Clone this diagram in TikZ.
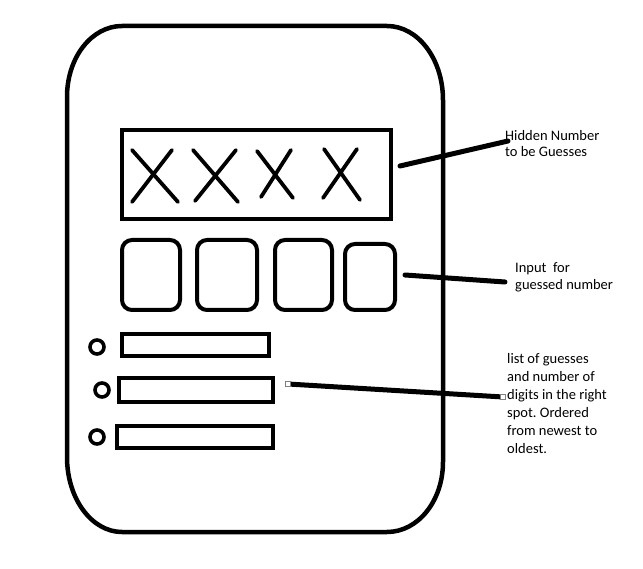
\documentclass[tikz,border=0pt]{standalone}
\usepackage{fontspec}
\setmainfont{Carlito}
\begin{document}
\frenchspacing
\begin{tikzpicture}[x=1pt,y=-1pt,
  frame/.style={line width=4.5pt},
  boxline/.style={draw, line width=4pt, inner sep=0pt, outer sep=0pt},
  cross/.style={line width=3.8pt, line cap=round},
  inbox/.style={boxline, rounded corners=10pt},
  bar/.style={boxline},
  dot/.style={draw, circle, line width=3.6pt, minimum size=14pt, inner sep=0pt},
  conn/.style={line width=5pt, line cap=round},
  handle/.style={draw=gray, fill=white, line width=0.8pt, minimum size=4.5pt, inner sep=0pt},
  lbl/.style={anchor=north west, align=left, inner sep=0pt, font=\fontsize{14.5}{16}\selectfont}
]
\useasboundingbox (0,0) rectangle (643,569);
% outer device frame
\draw[frame] (122,26) -- (387,26) .. controls (418,26) and (443,59) .. (443,100)
  -- (443,462) .. controls (443,501) and (418,532) .. (387,532)
  -- (122,532) .. controls (92,532) and (67,499) .. (67,457)
  -- (67,97) .. controls (67,57) and (92,26) .. (122,26) -- cycle;
% hidden number box
\node[boxline, minimum width=269pt, minimum height=89pt] (hidden) at (256.5,174.5) {};
\draw[cross] (132,150) -- (178,202) (172,150) -- (132,202);
\draw[cross] (193,150) -- (238,202) (236,150) -- (195,201);
\draw[cross] (257,151) -- (293,198) (291,150) -- (261,197);
\draw[cross] (324,149) -- (360,200) (357,149) -- (323,198);
% input boxes
\node[inbox, minimum width=58pt, minimum height=70pt] (in1) at (151,275) {};
\node[inbox, minimum width=60pt, minimum height=70pt] (in2) at (227,275) {};
\node[inbox, minimum width=57pt, minimum height=70pt] (in3) at (303.5,275) {};
\node[inbox, minimum width=50pt, minimum height=66pt] (in4) at (370,277) {};
% list of guesses
\node[bar, minimum width=147pt, minimum height=22pt] (g1) at (195.5,345) {};
\node[bar, minimum width=154pt, minimum height=24pt] (g2) at (196,390) {};
\node[bar, minimum width=156pt, minimum height=22pt] (g3) at (195,437) {};
\node[dot] (d1) at (97,347) {};
\node[dot] (d2) at (102,390) {};
\node[dot] (d3) at (97,437) {};
% labels
\node[lbl] (lhidden) at (505,130) {Hidden Number\\to be Guesses};
\node[lbl, font=\fontsize{14.5}{17.5}\selectfont] (linput) at (515,262) {Input\ \ for\\guessed number};
\node[lbl, font=\fontsize{14.5}{18}\selectfont] (llist) at (507,353) {list of guesses\\and number of\\digits in the right\\spot. Ordered\\from newest to\\oldest.};
% connectors
\coordinate (h1) at (400,166);
\coordinate (h2) at (508,141);
\coordinate (i1) at (405,275);
\coordinate (i2) at (505,282);
\coordinate (l1) at (288,384);
\coordinate (l2) at (503,397);
\draw[conn] (h1) -- (h2);
\draw[conn] (i1) -- (i2);
\draw[conn, line cap=butt] (l1) -- (l2);
\node[handle] (hl1) at (l1) {};
\node[handle] (hl2) at (l2) {};
\end{tikzpicture}
\end{document}
